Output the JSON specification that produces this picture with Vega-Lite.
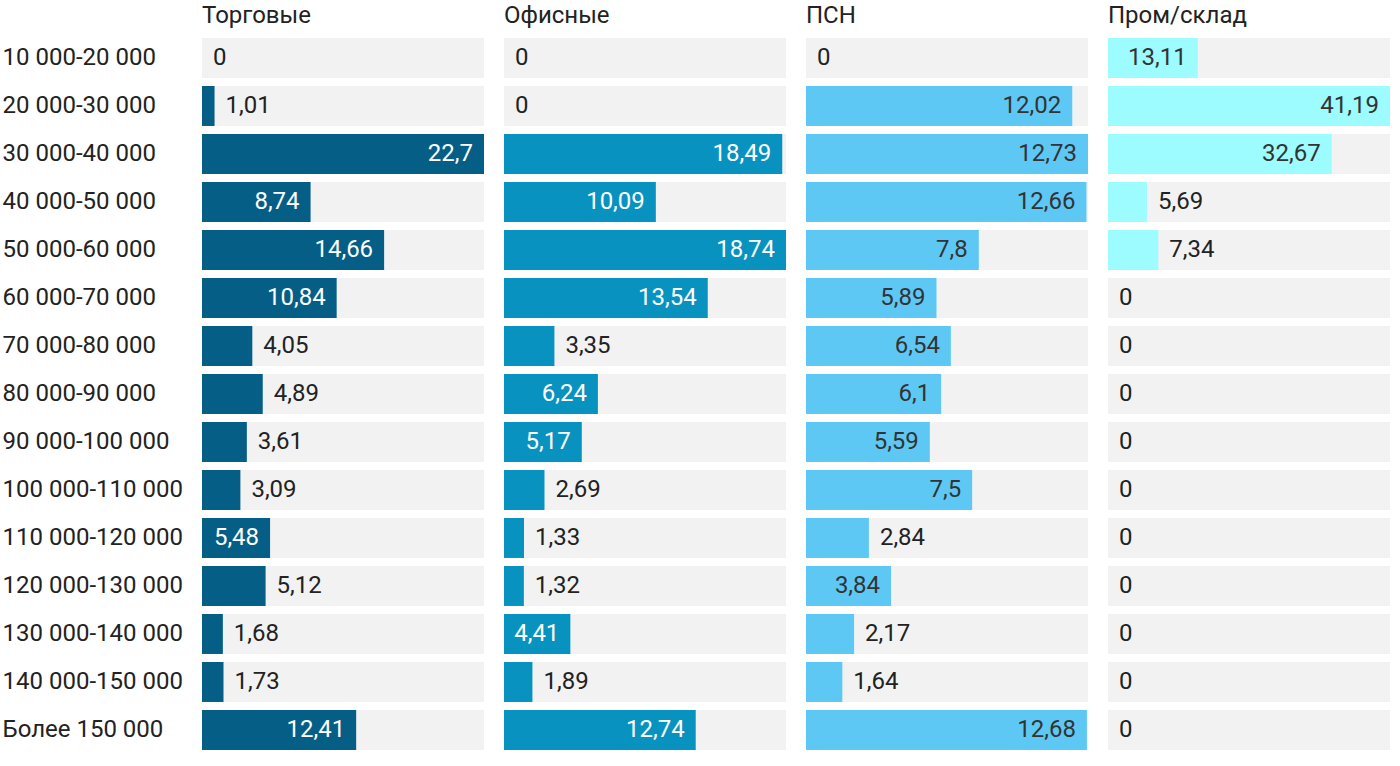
{
  "$schema": "https://vega.github.io/schema/vega-lite/v6.json",
  "padding": {"left": 2, "top": 4, "right": 0, "bottom": 0},
  "background": "white",
  "config": {
    "font": "Roboto",
    "view": {"stroke": null},
    "locale": {"number": {"decimal": ",", "thousands": " ", "grouping": [3], "currency": ["", ""]}},
    "axis": {"labelFont": "Roboto"},
    "header": {"labelFont": "Roboto"}
  },
  "data": {"values": [
    {"cat": "10 000-20 000", "type": "Торговые", "value": 0},
    {"cat": "20 000-30 000", "type": "Торговые", "value": 1.01},
    {"cat": "30 000-40 000", "type": "Торговые", "value": 22.7},
    {"cat": "40 000-50 000", "type": "Торговые", "value": 8.74},
    {"cat": "50 000-60 000", "type": "Торговые", "value": 14.66},
    {"cat": "60 000-70 000", "type": "Торговые", "value": 10.84},
    {"cat": "70 000-80 000", "type": "Торговые", "value": 4.05},
    {"cat": "80 000-90 000", "type": "Торговые", "value": 4.89},
    {"cat": "90 000-100 000", "type": "Торговые", "value": 3.61},
    {"cat": "100 000-110 000", "type": "Торговые", "value": 3.09},
    {"cat": "110 000-120 000", "type": "Торговые", "value": 5.48},
    {"cat": "120 000-130 000", "type": "Торговые", "value": 5.12},
    {"cat": "130 000-140 000", "type": "Торговые", "value": 1.68},
    {"cat": "140 000-150 000", "type": "Торговые", "value": 1.73},
    {"cat": "Более 150 000", "type": "Торговые", "value": 12.41},
    {"cat": "10 000-20 000", "type": "Офисные", "value": 0},
    {"cat": "20 000-30 000", "type": "Офисные", "value": 0},
    {"cat": "30 000-40 000", "type": "Офисные", "value": 18.49},
    {"cat": "40 000-50 000", "type": "Офисные", "value": 10.09},
    {"cat": "50 000-60 000", "type": "Офисные", "value": 18.74},
    {"cat": "60 000-70 000", "type": "Офисные", "value": 13.54},
    {"cat": "70 000-80 000", "type": "Офисные", "value": 3.35},
    {"cat": "80 000-90 000", "type": "Офисные", "value": 6.24},
    {"cat": "90 000-100 000", "type": "Офисные", "value": 5.17},
    {"cat": "100 000-110 000", "type": "Офисные", "value": 2.69},
    {"cat": "110 000-120 000", "type": "Офисные", "value": 1.33},
    {"cat": "120 000-130 000", "type": "Офисные", "value": 1.32},
    {"cat": "130 000-140 000", "type": "Офисные", "value": 4.41},
    {"cat": "140 000-150 000", "type": "Офисные", "value": 1.89},
    {"cat": "Более 150 000", "type": "Офисные", "value": 12.74},
    {"cat": "10 000-20 000", "type": "ПСН", "value": 0},
    {"cat": "20 000-30 000", "type": "ПСН", "value": 12.02},
    {"cat": "30 000-40 000", "type": "ПСН", "value": 12.73},
    {"cat": "40 000-50 000", "type": "ПСН", "value": 12.66},
    {"cat": "50 000-60 000", "type": "ПСН", "value": 7.8},
    {"cat": "60 000-70 000", "type": "ПСН", "value": 5.89},
    {"cat": "70 000-80 000", "type": "ПСН", "value": 6.54},
    {"cat": "80 000-90 000", "type": "ПСН", "value": 6.1},
    {"cat": "90 000-100 000", "type": "ПСН", "value": 5.59},
    {"cat": "100 000-110 000", "type": "ПСН", "value": 7.5},
    {"cat": "110 000-120 000", "type": "ПСН", "value": 2.84},
    {"cat": "120 000-130 000", "type": "ПСН", "value": 3.84},
    {"cat": "130 000-140 000", "type": "ПСН", "value": 2.17},
    {"cat": "140 000-150 000", "type": "ПСН", "value": 1.64},
    {"cat": "Более 150 000", "type": "ПСН", "value": 12.68},
    {"cat": "10 000-20 000", "type": "Пром/склад", "value": 13.11},
    {"cat": "20 000-30 000", "type": "Пром/склад", "value": 41.19},
    {"cat": "30 000-40 000", "type": "Пром/склад", "value": 32.67},
    {"cat": "40 000-50 000", "type": "Пром/склад", "value": 5.69},
    {"cat": "50 000-60 000", "type": "Пром/склад", "value": 7.34},
    {"cat": "60 000-70 000", "type": "Пром/склад", "value": 0},
    {"cat": "70 000-80 000", "type": "Пром/склад", "value": 0},
    {"cat": "80 000-90 000", "type": "Пром/склад", "value": 0},
    {"cat": "90 000-100 000", "type": "Пром/склад", "value": 0},
    {"cat": "100 000-110 000", "type": "Пром/склад", "value": 0},
    {"cat": "110 000-120 000", "type": "Пром/склад", "value": 0},
    {"cat": "120 000-130 000", "type": "Пром/склад", "value": 0},
    {"cat": "130 000-140 000", "type": "Пром/склад", "value": 0},
    {"cat": "140 000-150 000", "type": "Пром/склад", "value": 0},
    {"cat": "Более 150 000", "type": "Пром/склад", "value": 0}
  ]},
  "transform": [
    {"joinaggregate": [{"op": "max", "field": "value", "as": "maxv"}], "groupby": ["type"]}
  ],
  "facet": {
    "column": {
      "field": "type",
      "type": "nominal",
      "sort": ["Торговые", "Офисные", "ПСН", "Пром/склад"],
      "header": {"title": null, "labelAnchor": "start", "labelOrient": "top", "labelFontSize": 24, "labelColor": "#222", "labelPadding": 6}
    }
  },
  "spacing": 20,
  "resolve": {"scale": {"x": "independent"}},
  "spec": {
    "width": 282,
    "height": {"step": 48},
    "encoding": {
      "y": {
        "field": "cat", "type": "nominal", "sort": null, "title": null,
        "scale": {"paddingInner": 0.167, "paddingOuter": 0.083},
        "axis": {"ticks": false, "tickSize": 0, "domain": false, "labelAlign": "left", "labelPadding": 200, "labelLimit": 0, "labelFontSize": 24, "labelColor": "#222", "labelFont": "Roboto"}
      }
    },
    "layer": [
      {
        "mark": {"type": "bar", "color": "#f2f2f2"},
        "encoding": {
          "x": {"field": "maxv", "type": "quantitative", "axis": null, "scale": {"nice": false, "zero": true}}
        }
      },
      {
        "mark": {"type": "bar"},
        "encoding": {
          "x": {"field": "value", "type": "quantitative", "axis": null},
          "color": {
            "field": "type", "type": "nominal", "legend": null,
            "scale": {"domain": ["Торговые", "Офисные", "ПСН", "Пром/склад"], "range": ["#045e86", "#0892c0", "#5ec8f5", "#9cfcff"]}
          }
        }
      },
      {
        "transform": [{"filter": "datum.value / datum.maxv >= 0.23"}],
        "mark": {"type": "text", "align": "right", "baseline": "middle", "dx": -11, "fontSize": 24, "font": "Roboto"},
        "encoding": {
          "x": {"field": "value", "type": "quantitative"},
          "text": {"field": "value", "type": "quantitative", "format": ".2~f"},
          "color": {"condition": {"test": "datum.type === 'Торговые' || datum.type === 'Офисные'", "value": "#ffffff"}, "value": "#333333"}
        }
      },
      {
        "transform": [{"filter": "!(datum.value / datum.maxv >= 0.23)"}],
        "mark": {"type": "text", "align": "left", "baseline": "middle", "dx": 11, "fontSize": 24, "font": "Roboto", "color": "#222222"},
        "encoding": {
          "x": {"field": "value", "type": "quantitative"},
          "text": {"field": "value", "type": "quantitative", "format": ".2~f"}
        }
      }
    ]
  }
}
